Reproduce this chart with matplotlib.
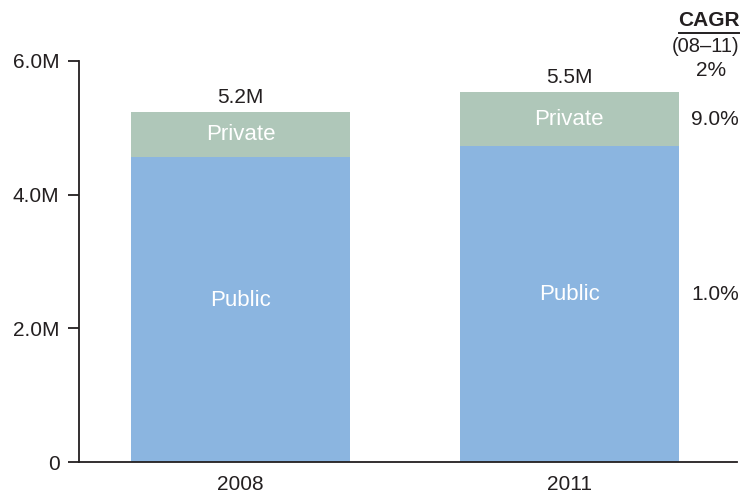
import numpy as np
import matplotlib.pyplot as plt
from matplotlib.transforms import blended_transform_factory

plt.rcParams['font.family'] = ['Liberation Sans', 'DejaVu Sans']

years = ['2008', '2011']
public = [4.57, 4.73]     # millions
private = [0.66, 0.80]
totals = ['5.2M', '5.5M']
cagr_total = '2%'
cagr_private = '9.0%'
cagr_public = '1.0%'

PUBLIC_COLOR = '#8bb5e0'
PRIVATE_COLOR = '#afc7b9'
TEXT_COLOR = '#231f20'
FS = 15

fig = plt.figure(figsize=(7.43, 4.92), dpi=100)
ax = fig.add_axes([79 / 743, 1 - 462 / 492, (737 - 79) / 743, (462 - 61) / 492])

x = np.arange(len(years))
width = 0.667
pub = np.array(public)
priv = np.array(private)

ax.bar(x, pub, width=width, color=PUBLIC_COLOR, linewidth=0)
ax.bar(x, priv, width=width, bottom=pub, color=PRIVATE_COLOR, linewidth=0)

for i in range(len(years)):
    ax.text(x[i], pub[i] * 0.53, 'Public', color='white', fontsize=16,
            ha='center', va='center')
    ax.text(x[i], pub[i] + priv[i] / 2, 'Private', color='white', fontsize=16,
            ha='center', va='center')
    ax.annotate(totals[i], (x[i], pub[i] + priv[i]), xytext=(0, 4),
                textcoords='offset points', ha='center', va='bottom',
                fontsize=FS, color=TEXT_COLOR)

# CAGR column on the right, lined up with the 2011 bar
trans = blended_transform_factory(fig.transFigure, ax.transData)
px = 715 / 743
hx = 709 / 743
ax.text(px, pub[1] + priv[1] / 2, cagr_private, transform=trans, ha='center',
        va='center', fontsize=FS, color=TEXT_COLOR, clip_on=False)
ax.text(px, pub[1] * 0.53, cagr_public, transform=trans, ha='center',
        va='center', fontsize=FS, color=TEXT_COLOR, clip_on=False)
fig.text(hx, 1 - 21 / 492, 'CAGR', ha='center', va='center', fontsize=FS,
         fontweight='bold', color=TEXT_COLOR)
fig.add_artist(plt.Line2D([679 / 743, 739 / 743], [1 - 33 / 492, 1 - 33 / 492],
                          color=TEXT_COLOR, linewidth=1.4))
fig.text(706 / 743, 1 - 46 / 492, '(08–11)', ha='center', va='center',
         fontsize=14.5, color=TEXT_COLOR)
fig.text(711 / 743, 1 - 71 / 492, cagr_total, ha='center', va='center',
         fontsize=FS, color=TEXT_COLOR)

ax.set_xlim(-0.4916, 1.511)
ax.set_ylim(0, 6)
ax.set_xticks(x)
ax.set_xticklabels(years)
ax.set_yticks([0, 2, 4, 6])
ax.set_yticklabels(['0', '2.0M', '4.0M', '6.0M'])
ax.tick_params(axis='y', length=8, width=1.3, colors=TEXT_COLOR, labelsize=FS,
               pad=6)
ax.tick_params(axis='x', length=0, labelsize=FS, colors=TEXT_COLOR, pad=9)
for side in ['top', 'right']:
    ax.spines[side].set_visible(False)
for side in ['left', 'bottom']:
    ax.spines[side].set_linewidth(1.3)
    ax.spines[side].set_color(TEXT_COLOR)

fig.savefig('out.png', dpi=100)
